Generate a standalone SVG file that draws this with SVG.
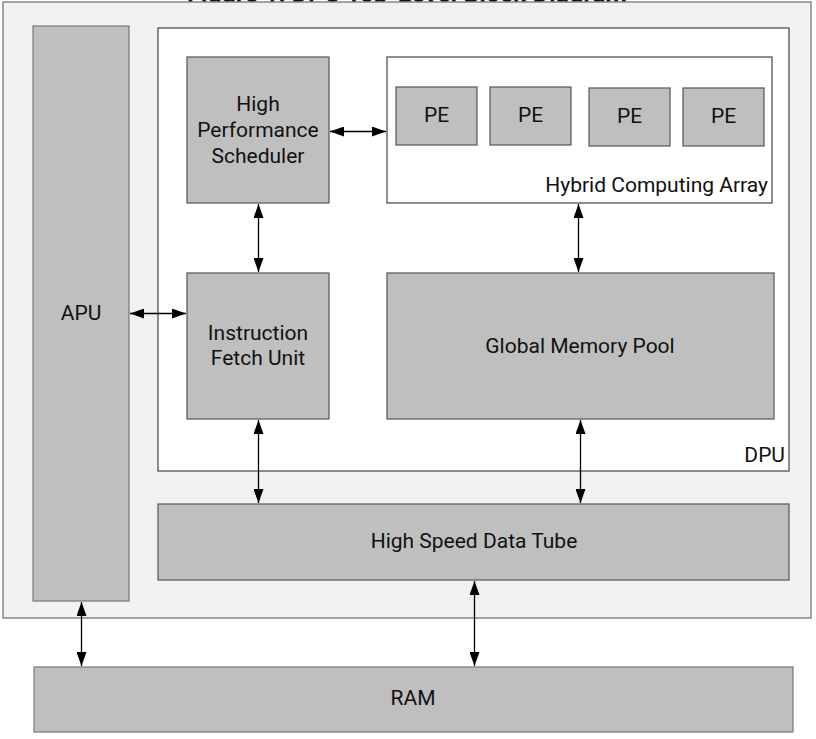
<svg xmlns="http://www.w3.org/2000/svg" width="816" height="739" viewBox="0 0 816 739">
<style>
  text { font-family: Roboto, "Liberation Sans", sans-serif; font-size: 21px; fill: #111; }
  .c { text-anchor: middle; }
  .e { text-anchor: end; }
  .box { fill: #bfbfbf; stroke: #555; stroke-width: 1.2; }
  .lite { fill: #bfbfbf; stroke: #777; stroke-width: 1.2; }
  .wbox { fill: #ffffff; stroke: #444; stroke-width: 1.2; }
  .conn { stroke: #000; stroke-width: 1.3; fill: none; marker-start: url(#arrS); marker-end: url(#arrE); }
  .title { font-weight: bold; font-size: 25px; }
</style>
<defs>
  <marker id="arrE" markerWidth="14" markerHeight="10" refX="14" refY="5" orient="auto" markerUnits="userSpaceOnUse">
    <path d="M0,0 L14,5 L0,10 Z" fill="#000"/>
  </marker>
  <marker id="arrS" markerWidth="14" markerHeight="10" refX="0" refY="5" orient="auto" markerUnits="userSpaceOnUse">
    <path d="M14,0 L0,5 L14,10 Z" fill="#000"/>
  </marker>
</defs>
<rect width="816" height="739" fill="#ffffff"/>
<text class="c title" x="407" y="2">Figure 1: DPU Top-Level Block Diagram</text>

<g id="system">
  <rect x="3" y="2" width="808" height="616" fill="#f1f1f1" stroke="#888" stroke-width="1.5"/>
</g>
<g id="dpu">
  <rect class="wbox" x="158" y="28" width="631" height="443"/>
  <text class="e" x="785" y="462">DPU</text>
</g>
<g id="apu">
  <rect class="lite" x="33" y="26" width="96" height="575"/>
  <text class="c" x="81" y="320">APU</text>
</g>
<g id="scheduler">
  <rect class="box" x="187" y="57" width="142" height="146"/>
  <text class="c" x="258" y="111">High</text>
  <text class="c" x="258" y="137">Performance</text>
  <text class="c" x="258" y="163">Scheduler</text>
</g>
<g id="hca">
  <rect class="wbox" x="387" y="57" width="385" height="146"/>
  <text class="e" x="768" y="192">Hybrid Computing Array</text>
</g>
<g id="pe1">
  <rect class="box" x="396" y="87" width="81" height="58"/>
  <text class="c" x="436.5" y="122">PE</text>
</g>
<g id="pe2">
  <rect class="box" x="490" y="87" width="81" height="58"/>
  <text class="c" x="530.5" y="122">PE</text>
</g>
<g id="pe3">
  <rect class="box" x="589" y="88" width="81" height="58"/>
  <text class="c" x="629.5" y="123">PE</text>
</g>
<g id="pe4">
  <rect class="box" x="683" y="88" width="81" height="58"/>
  <text class="c" x="723.5" y="123">PE</text>
</g>
<g id="ifu">
  <rect class="box" x="187" y="273" width="142" height="146"/>
  <text class="c" x="258" y="340">Instruction</text>
  <text class="c" x="258" y="365">Fetch Unit</text>
</g>
<g id="gmp">
  <rect class="box" x="387" y="273" width="387" height="146"/>
  <text class="c" x="580" y="353">Global Memory Pool</text>
</g>
<g id="hsdt">
  <rect class="box" x="158" y="504" width="631" height="76"/>
  <text class="c" x="474" y="548">High Speed Data Tube</text>
</g>
<g id="ram">
  <rect class="lite" x="34" y="667" width="759" height="65"/>
  <text class="c" x="413" y="705">RAM</text>
</g>

<g id="connectors">
  <line class="conn" x1="330" y1="131.5" x2="386" y2="131.5"/>
  <line class="conn" x1="258.5" y1="204" x2="258.5" y2="272"/>
  <line class="conn" x1="578.5" y1="204" x2="578.5" y2="272"/>
  <line class="conn" x1="130" y1="313.5" x2="186" y2="313.5"/>
  <line class="conn" x1="258.5" y1="420" x2="258.5" y2="503"/>
  <line class="conn" x1="580.5" y1="420" x2="580.5" y2="503"/>
  <line class="conn" x1="81.5" y1="602" x2="81.5" y2="666"/>
  <line class="conn" x1="474.5" y1="581" x2="474.5" y2="666"/>
</g>
</svg>
